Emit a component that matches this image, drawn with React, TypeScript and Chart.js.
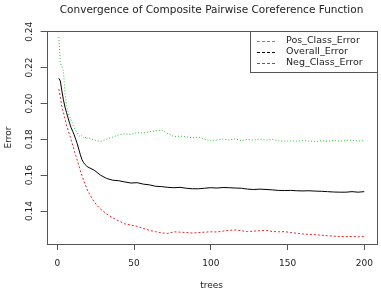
import React, { useEffect, useRef } from "react";
import { Chart, registerables } from "chart.js";

Chart.register(...registerables);

const chartTitle = "Convergence of Composite Pairwise Coreference Function";
const xAxisTitle = "trees";
const yAxisTitle = "Error";

const trees = [
  1, 2, 3, 4, 5, 6, 7, 8, 9, 10, 11, 12, 13, 14, 15, 16, 17, 18, 19, 20,
  24, 28, 32, 36, 40, 44, 48, 52, 56, 60, 64, 68, 72, 76, 80, 84, 88, 92, 96, 100,
  104, 108, 112, 116, 120, 124, 128, 132, 136, 140, 144, 148, 152, 156, 160, 164, 168, 172, 176, 180,
  184, 188, 192, 196, 200,
];

const posClassError = [
  0.2370, 0.2225, 0.2205, 0.2180, 0.2060, 0.1990, 0.1955, 0.1928, 0.1905, 0.1885,
  0.1866, 0.1850, 0.1836, 0.1822, 0.1814, 0.1820, 0.1808, 0.1816, 0.1801, 0.1810,
  0.1796, 0.1788, 0.1800, 0.1812, 0.1825, 0.1830, 0.1827, 0.1838, 0.1834, 0.1842,
  0.1847, 0.1852, 0.1832, 0.1815, 0.1818, 0.1814, 0.1808, 0.1812, 0.1800, 0.1792,
  0.1796, 0.1801, 0.1796, 0.1802, 0.1793, 0.1800, 0.1795, 0.1802, 0.1795, 0.1800,
  0.1792, 0.1789, 0.1792, 0.1789, 0.1793, 0.1790, 0.1788, 0.1792, 0.1789, 0.1793,
  0.1790, 0.1792, 0.1795, 0.1790, 0.1793,
];

const overallError = [
  0.2140, 0.2125, 0.2070, 0.2020, 0.1980, 0.1950, 0.1920, 0.1890, 0.1865, 0.1845,
  0.1825, 0.1800, 0.1775, 0.1745, 0.1715, 0.1688, 0.1672, 0.1660, 0.1652, 0.1645,
  0.1628, 0.1601, 0.1582, 0.1572, 0.1569, 0.1562, 0.1556, 0.1558, 0.1550, 0.1546,
  0.1538, 0.1536, 0.1532, 0.1530, 0.1532, 0.1527, 0.1524, 0.1524, 0.1527, 0.1530,
  0.1528, 0.1531, 0.1530, 0.1528, 0.1527, 0.1522, 0.1520, 0.1522, 0.1520, 0.1518,
  0.1515, 0.1514, 0.1515, 0.1513, 0.1512, 0.1513, 0.1511, 0.1510, 0.1508, 0.1506,
  0.1505, 0.1505, 0.1508, 0.1505, 0.1508,
];

const negClassError = [
  0.2080, 0.2035, 0.1980, 0.1950, 0.1915, 0.1880, 0.1852, 0.1825, 0.1798, 0.1768,
  0.1740, 0.1710, 0.1683, 0.1655, 0.1625, 0.1600, 0.1575, 0.1552, 0.1530, 0.1510,
  0.1450, 0.1412, 0.1385, 0.1362, 0.1345, 0.1328, 0.1322, 0.1315, 0.1303, 0.1292,
  0.1285, 0.1278, 0.1275, 0.1284, 0.1282, 0.1280, 0.1277, 0.1280, 0.1282, 0.1284,
  0.1283, 0.1288, 0.1292, 0.1294, 0.1290, 0.1285, 0.1288, 0.1290, 0.1292, 0.1286,
  0.1284, 0.1285, 0.1280, 0.1276, 0.1272, 0.1270, 0.1268, 0.1265, 0.1262, 0.1260,
  0.1258, 0.1257, 0.1258, 0.1256, 0.1258,
];

const seriesLabels = ["Pos_Class_Error", "Overall_Error", "Neg_Class_Error"];
const seriesColors = ["#22c922", "#000000", "#ee2222"];

const xTickValues = [0, 50, 100, 150, 200];
const xTickLabels = ["0", "50", "100", "150", "200"];
const yTickValues = [0.14, 0.16, 0.18, 0.2, 0.22, 0.24];
const yTickLabels = ["0.14", "0.16", "0.18", "0.20", "0.22", "0.24"];

const FONT = '"DejaVu Sans", sans-serif';
const AXIS_COLOR = "#555555";
const TEXT_COLOR = "#222222";

const decorPlugin = {
  id: "decor",
  afterDraw(chart: any) {
    const { ctx, chartArea: a, scales } = chart;
    const xs = scales.x;
    const ys = scales.y;
    ctx.save();
    // frame
    ctx.strokeStyle = AXIS_COLOR;
    ctx.lineWidth = 1;
    ctx.setLineDash([]);
    ctx.strokeRect(
      Math.round(a.left) + 0.5,
      Math.round(a.top) + 0.5,
      Math.round(a.right) - Math.round(a.left),
      Math.round(a.bottom) - Math.round(a.top)
    );
    // tick labels
    ctx.fillStyle = TEXT_COLOR;
    ctx.font = `9px ${FONT}`;
    ctx.textAlign = "center";
    ctx.textBaseline = "middle";
    xTickValues.forEach((v, i) => {
      ctx.fillText(xTickLabels[i], xs.getPixelForValue(v), a.bottom + 20);
    });
    yTickValues.forEach((v, i) => {
      ctx.save();
      ctx.translate(a.left - 17, ys.getPixelForValue(v));
      ctx.rotate(-Math.PI / 2);
      ctx.fillText(yTickLabels[i], 0, 0);
      ctx.restore();
    });
    // axis titles
    ctx.fillText(xAxisTitle, (a.left + a.right) / 2, a.bottom + 42);
    ctx.save();
    ctx.translate(9, (a.top + a.bottom) / 2);
    ctx.rotate(-Math.PI / 2);
    ctx.fillText(yAxisTitle, 0, 0);
    ctx.restore();
    // title
    ctx.font = `10.5px ${FONT}`;
    ctx.fillText(chartTitle, (a.left + a.right) / 2, 10);
    // legend
    const lw = 127;
    const lh = 41;
    const lx = Math.round(a.right - lw);
    const ly = Math.round(a.top);
    ctx.fillStyle = "#ffffff";
    ctx.fillRect(lx + 0.5, ly + 0.5, lw, lh);
    ctx.strokeStyle = AXIS_COLOR;
    ctx.strokeRect(lx + 0.5, ly + 0.5, lw, lh);
    ctx.font = `9.5px ${FONT}`;
    ctx.textAlign = "left";
    chart.data.datasets.forEach((ds: any, i: number) => {
      const yy = ly + 10 + i * 11;
      ctx.strokeStyle = seriesColors[i];
      ctx.lineWidth = 1;
      ctx.setLineDash([3, 2]);
      ctx.beginPath();
      ctx.moveTo(lx + 7, yy + 0.5);
      ctx.lineTo(lx + 27, yy + 0.5);
      ctx.stroke();
      ctx.setLineDash([]);
      ctx.fillStyle = TEXT_COLOR;
      ctx.fillText(ds.label, lx + 36, yy);
    });
    ctx.restore();
  },
};

export default function App() {
  const ref = useRef<HTMLCanvasElement>(null);
  useEffect(() => {
    if (!ref.current) return;
    const mk = (vals: number[]) => trees.map((t, i) => ({ x: t, y: vals[i] }));
    const dashes = [[1, 2], [], [2, 2]];
    const allSeries = [posClassError, overallError, negClassError];
    const chart = new Chart(ref.current, {
      type: "line",
      data: {
        datasets: allSeries.map((vals, i) => ({
          label: seriesLabels[i],
          data: mk(vals),
          borderColor: seriesColors[i],
          borderWidth: 1,
          borderDash: dashes[i],
          pointRadius: 0,
          tension: 0,
          fill: false,
        })),
      },
      options: {
        responsive: false,
        devicePixelRatio: 1,
        animation: false,
        events: [],
        layout: { padding: { left: 0, right: 4.5, top: 31, bottom: 0 } },
        plugins: {
          legend: { display: false },
          title: { display: false },
          tooltip: { enabled: false },
        },
        scales: {
          x: {
            type: "linear",
            min: -6.96,
            max: 207.96,
            afterBuildTicks: (s: any) => {
              s.ticks = xTickValues.map((v) => ({ value: v }));
            },
            afterFit: (s: any) => {
              s.height = 49;
            },
            ticks: { display: false },
            grid: {
              display: true,
              drawOnChartArea: false,
              drawTicks: true,
              tickLength: 6,
              color: AXIS_COLOR,
            },
            border: { display: false },
          },
          y: {
            type: "linear",
            min: 0.1216,
            max: 0.2404,
            afterBuildTicks: (s: any) => {
              s.ticks = yTickValues.map((v) => ({ value: v }));
            },
            afterFit: (s: any) => {
              s.width = 46.6;
            },
            ticks: { display: false },
            grid: {
              display: true,
              drawOnChartArea: false,
              drawTicks: true,
              tickLength: 6,
              color: AXIS_COLOR,
            },
            border: { display: false },
          },
        },
      },
      plugins: [decorPlugin],
    });
    return () => chart.destroy();
  }, []);
  return (
    <div style={{ position: "fixed", left: 0, top: 0, width: 381, height: 293, background: "#fff" }}>
      <canvas ref={ref} width={381} height={293} style={{ display: "block" }} />
    </div>
  );
}
